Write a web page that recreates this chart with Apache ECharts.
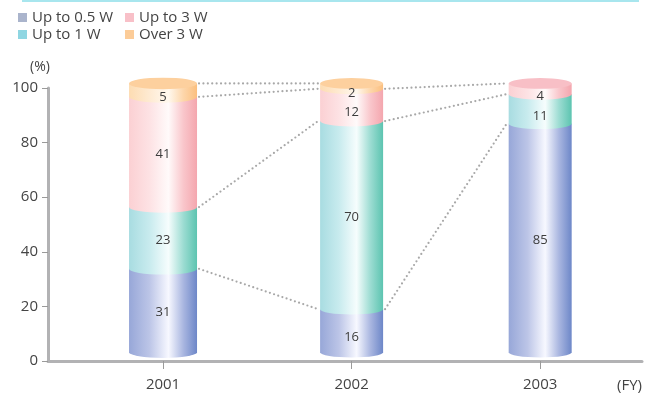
<!DOCTYPE html>
<html>
<head>
<meta charset="utf-8">
<title>Standby power share by fiscal year</title>
<script src="https://cdn.jsdelivr.net/npm/echarts@6.0.0/dist/echarts.min.js"></script>
<style>
  html, body { margin: 0; padding: 0; background: #ffffff; }
  #chart { width: 654px; height: 394px; }
</style>
</head>
<body>
<div id="chart"></div>
<script>
// Share of products by standby power class (%), per fiscal year
const years = [2001, 2002, 2003];
const upTo05W = [31, 16, 85];
const upTo1W = [23, 70, 11];
const upTo3W = [41, 12, 4];
const over3W = [5, 2, 0];
const yTicks = [0, 20, 40, 60, 80, 100];

const seriesNames = ['Up to 0.5 W', 'Up to 1 W', 'Up to 3 W', 'Over 3 W'];
const seriesValues = [upTo05W, upTo1W, upTo3W, over3W];

// Look of each class: legend swatch, cylinder shading and cap tint
const classStyles = [
  { legend: '#aab4cc', cap: '#a4b2e0',
    stops: ['#97a7d8', '#bcc5e7', '#f7f8ff', '#a9b6e0', '#6d87c8'] },
  { legend: '#8fd6e2', cap: '#a8dfe0',
    stops: ['#a8dce1', '#c8ebee', '#f6fdfd', '#9cdcd2', '#5cc4b0'] },
  { legend: '#f8c0c8', cap: '#f8bfc6',
    stops: ['#fbd0d3', '#fde2e4', '#fffafa', '#f9c6cb', '#f4a6ae'] },
  { legend: '#fccc98', cap: '#fdd09e',
    stops: ['#fddcb2', '#feead2', '#fff8ee', '#fdd6aa', '#fbbf7e'] }
];
const barWidths = [68, 63, 63];

// Cumulative levels: cum[k][i] = top of class k in year i
const cum = seriesValues.map((_, k) =>
  years.map((_, i) => seriesValues.slice(0, k + 1).reduce((a, arr) => a + arr[i], 0))
);

function gradient(stops) {
  const pos = [0, 0.3, 0.58, 0.8, 1];
  return {
    type: 'linear', x: 0, y: 0, x2: 1, y2: 0,
    colorStops: stops.map((c, j) => ({ offset: pos[j], color: c }))
  };
}

function segmentSeries(k) {
  const data = years.map((y, i) => [y, k === 0 ? 0 : cum[k - 1][i], cum[k][i], seriesValues[k][i]]);
  return {
    type: 'custom',
    name: seriesNames[k],
    xAxisIndex: 0,
    yAxisIndex: 1,
    z: 10 + k,
    itemStyle: { color: classStyles[k].legend },
    encode: { x: 0, y: [1, 2] },
    data: data,
    renderItem: function (params, api) {
      const i = params.dataIndex;
      const val = api.value(3);
      if (!(val > 0)) return null;
      const pLo = api.coord([api.value(0), api.value(1)]);
      const pHi = api.coord([api.value(0), api.value(2)]);
      const w = barWidths[i];
      const hw = w / 2;
      const ry = w * 0.085;
      const L = pLo[0] - hw, R = pLo[0] + hw;
      const yb = pLo[1], yt = pHi[1];
      const isTop = seriesValues.slice(k + 1).every(arr => !(arr[i] > 0));
      const children = [{
        type: 'path',
        shape: {
          pathData: `M${L},${yt} L${L},${yb} A${hw},${ry} 0 0 0 ${R},${yb} L${R},${yt} Z`
        },
        style: { fill: gradient(classStyles[k].stops) }
      }];
      if (isTop) {
        children.push({
          type: 'path',
          shape: {
            pathData: `M${L},${yt} A${hw},${ry} 0 0 0 ${R},${yt} A${hw},${ry} 0 0 0 ${L},${yt} Z`
          },
          style: { fill: classStyles[k].cap }
        });
      }
      // short segments: centre the number on the visible front face
      const h = yb - yt;
      const dy = h < 50 ? 7 : 2;
      children.push({
        type: 'text',
        x: pLo[0],
        y: (yb + yt) / 2 + dy,
        style: {
          text: String(val),
          fill: '#3c3c3c',
          font: '13px "Open Sans", sans-serif',
          align: 'center',
          verticalAlign: 'middle'
        },
        z2: 5
      });
      return { type: 'group', children: children };
    }
  };
}

// Dotted links between matching class boundaries of neighbouring years
const links = [];
for (let i = 0; i + 1 < years.length; i++) {
  for (let k = 0; k < seriesNames.length; k++) {
    if (!(seriesValues[k][i + 1] > 0)) continue;
    links.push([years[i], cum[k][i], years[i + 1], cum[k][i + 1]]);
  }
}

const linkSeries = {
  type: 'custom',
  name: 'links',
  xAxisIndex: 0,
  yAxisIndex: 1,
  z: 5,
  encode: { x: [0, 2], y: [1, 3] },
  data: links,
  renderItem: function (params, api) {
    const a = api.coord([api.value(0), api.value(1)]);
    const b = api.coord([api.value(2), api.value(3)]);
    const ia = years.indexOf(api.value(0));
    const ib = years.indexOf(api.value(2));
    return {
      type: 'line',
      shape: { x1: a[0] + barWidths[ia] / 2 + 2, y1: a[1], x2: b[0] - barWidths[ib] / 2 - 2, y2: b[1] },
      style: { stroke: '#a8a8a8', lineWidth: 2.2, lineDash: [0, 4.4], lineCap: 'round' }
    };
  }
};

const chart = echarts.init(document.getElementById('chart'), null, { renderer: 'canvas' });
const textStyle = { fontFamily: '"Open Sans", sans-serif', fontSize: 15, color: '#444444' };

chart.setOption({
  animation: false,
  textStyle: textStyle,
  graphic: [{
    type: 'rect',
    shape: { x: 22, y: 0, width: 617, height: 2 },
    style: { fill: '#a8e6ee' },
    silent: true
  }],
  legend: [{
    data: [seriesNames[0], seriesNames[1]],
    orient: 'vertical',
    left: 13, top: 5,
    icon: 'rect', itemWidth: 9, itemHeight: 9, itemGap: 2,
    textStyle: textStyle
  }, {
    data: [seriesNames[2], seriesNames[3]],
    orient: 'vertical',
    left: 120, top: 5,
    icon: 'rect', itemWidth: 9, itemHeight: 9, itemGap: 2,
    textStyle: textStyle
  }],
  grid: { left: 48, right: 12, top: 88, bottom: 33, containLabel: false },
  xAxis: [{
    type: 'value',
    min: 2000.39,
    max: 2003.54,
    name: '(FY)',
    nameLocation: 'end',
    nameGap: 0,
    nameTextStyle: { align: 'right', verticalAlign: 'top', padding: [17, 0, 0, 0], fontSize: 15, color: '#444444' },
    splitLine: { show: false },
    axisLine: { lineStyle: { color: '#b2b2b4', width: 3 } },
    axisTick: { show: true, customValues: years, length: 8, lineStyle: { color: '#9a9a9a', width: 1 } },
    axisLabel: { customValues: years, formatter: v => String(v), margin: 16, fontSize: 15, color: '#444444' }
  }],
  yAxis: [{
    type: 'value',
    min: 0,
    max: 100,
    interval: 20,
    name: '(%)',
    nameLocation: 'end',
    nameGap: 14,
    nameTextStyle: { padding: [0, 16, 0, 0], fontSize: 14, color: '#444444' },
    splitLine: { show: false },
    axisLine: { show: true, lineStyle: { color: '#b2b2b4', width: 3 } },
    axisTick: { show: true, customValues: yTicks, length: 6, lineStyle: { color: '#9a9a9a', width: 1 } },
    axisLabel: { customValues: yTicks, margin: 10, fontSize: 15, color: '#444444' }
  }, {
    // cylinder scale: side edges sit slightly above the flat axis level
    type: 'value',
    show: false,
    min: -3.3,
    max: 98.3,
    splitLine: { show: false }
  }],
  series: [linkSeries].concat(seriesNames.map((_, k) => segmentSeries(k)))
});
</script>
</body>
</html>
